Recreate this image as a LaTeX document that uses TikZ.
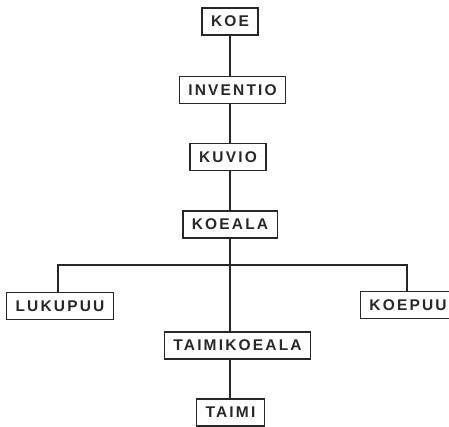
\documentclass[tikz,border=0pt]{standalone}
\usepackage{fontspec}
\setmainfont{Liberation Sans}[LetterSpace=14]
\usepackage{tikz}
\usetikzlibrary{positioning}
\definecolor{InkGray}{RGB}{40, 40, 40}

\begin{document}
\begin{tikzpicture}[x=1pt,y=-1pt,every node/.style={font=\fontsize{15.5}{17}\selectfont\bfseries},
    levelbox/.style={draw=InkGray,line width=1.3pt,text=InkGray,minimum height=27pt,inner xsep=9pt,inner ysep=0pt}]
        \useasboundingbox (0,0) rectangle (449,426);
        \node[levelbox] (koe) at (230,21.5) {KOE};
        \node[levelbox] (inventio) at (232.5,90) {INVENTIO};
        \node[levelbox] (kuvio) at (228,157) {KUVIO};
        \node[levelbox] (koeala) at (230,224.5) {KOEALA};
        \node[levelbox] (lukupuu) at (60,306) {LUKUPUU};
        \node[levelbox] (koepuu) at (408,305) {KOEPUU};
        \node[levelbox] (taimikoeala) at (237.5,345.5) {TAIMIKOEALA};
        \node[levelbox] (taimi) at (230.5,412.5) {TAIMI};
        \coordinate (bus) at (230,265);
        \draw[InkGray,line width=1.3pt] (koe.south) -- (koe.south |- inventio.north);
        \draw[InkGray,line width=1.3pt] (kuvio.north -| koe.south) -- (inventio.south -| koe.south);
        \draw[InkGray,line width=1.3pt] (bus |- kuvio.south) -- (bus |- koeala.north);
        \draw[InkGray,line width=1.3pt] (bus |- koeala.south) -- (bus |- taimikoeala.north);
        \draw[InkGray,line width=1.3pt] (bus |- taimikoeala.south) -- (bus |- taimi.north);
        \draw[InkGray,line width=1.3pt] ([xshift=-2pt]lukupuu.north) |- (bus) -| ([xshift=-1pt]koepuu.north);
      \end{tikzpicture}
\end{document}
